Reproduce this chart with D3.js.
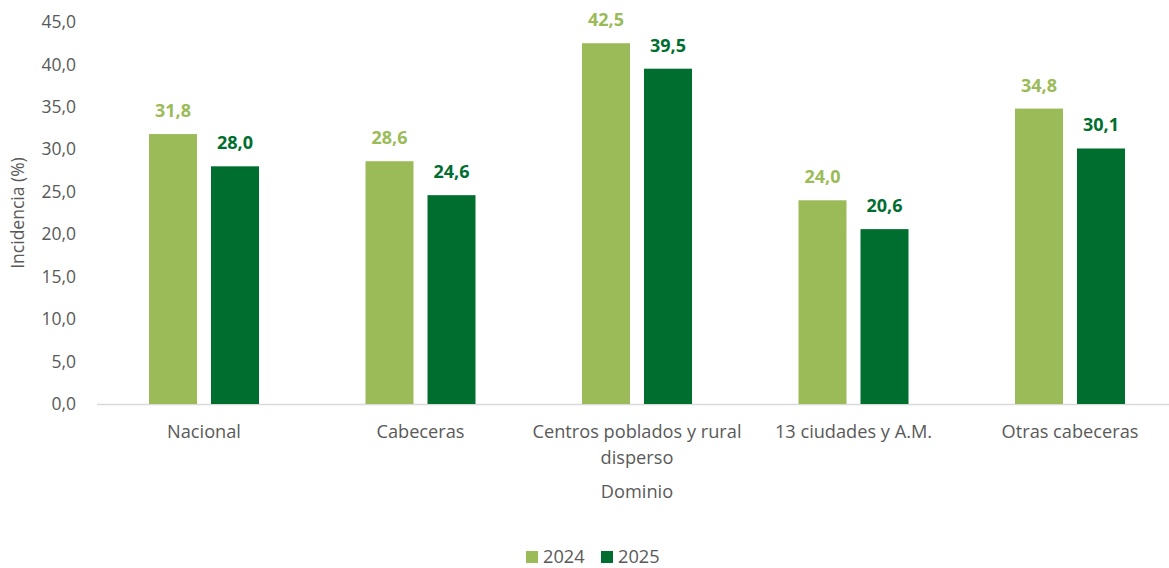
<!DOCTYPE html>
<html><head><meta charset="utf-8">
<script src="https://cdn.jsdelivr.net/npm/d3@7"></script>
<style>body{margin:0;background:#fff;} text{font-family:"Open Sans",Lato,sans-serif;}</style>
</head><body><svg id="c" width="1169" height="568"></svg>
<script>
const categories = ["Nacional","Cabeceras","Centros poblados y rural disperso","13 ciudades y A.M.","Otras cabeceras"];
const categoryLines = [["Nacional"],["Cabeceras"],["Centros poblados y rural","disperso"],["13 ciudades y A.M."],["Otras cabeceras"]];
const seriesNames = ["2024","2025"];
const values2024 = [31.8,28.6,42.5,24.0,34.8];
const values2025 = [28.0,24.6,39.5,20.6,30.1];
const yTicks = [0,5,10,15,20,25,30,35,40,45];
const colors = ["#9BBB59","#006E2F"];

(function(){
const svg = d3.select("#c");
const pL=95.75, pR=1178.25, pT=22, pB=404;
const x0 = d3.scaleBand().domain(categories).range([pL,pR]).padding(0);
const x1 = d3.scaleBand().domain(seriesNames).range([0,110]).paddingInner(14/62);
const y = d3.scaleLinear().domain([0,45]).range([pB,pT]);
const fmt = v => d3.format(".1f")(v).replace(".",",");
const fs = "17.5px", fc = "18.2px";

svg.append("g").selectAll("text").data(yTicks).join("text")
  .attr("x",76).attr("y",d=>y(d)).attr("dy","0.35em").attr("text-anchor","end")
  .attr("fill","#595959").style("font-size",fs).text(fmt);

svg.append("text").attr("transform",`translate(24,${(pT+pB)/2}) rotate(-90)`)
  .attr("text-anchor","middle").attr("fill","#595959").style("font-size",fs).text("Incidencia (%)");

svg.append("line").attr("x1",97).attr("x2",1169).attr("y1",pB+0.5).attr("y2",pB+0.5)
  .attr("stroke","#d9d9d9").attr("stroke-width",1.5);

const data = categories.map((c,i)=>({c, vals:[values2024[i],values2025[i]]}));
const g = svg.append("g").selectAll("g").data(data).join("g")
  .attr("transform",d=>`translate(${x0(d.c)+x0.bandwidth()/2-55},0)`);
g.selectAll("rect").data(d=>d.vals.map((v,k)=>({v,k}))).join("rect")
  .attr("x",d=>x1(seriesNames[d.k])).attr("width",x1.bandwidth())
  .attr("y",d=>y(d.v)).attr("height",d=>pB-y(d.v)).attr("fill",d=>colors[d.k]);
g.selectAll("text.lab").data(d=>d.vals.map((v,k)=>({v,k}))).join("text").attr("class","lab")
  .attr("x",d=>x1(seriesNames[d.k])+x1.bandwidth()/2).attr("y",d=>y(d.v)-17)
  .attr("text-anchor","middle").attr("fill",d=>colors[d.k]).style("font-size","18px").style("font-weight","bold")
  .text(d=>fmt(d.v));

svg.append("g").selectAll("text").data(categories).join("text")
  .attr("x",d=>x0(d)+x0.bandwidth()/2).attr("y",438).attr("text-anchor","middle")
  .attr("fill","#595959").style("font-size",fc)
  .each(function(d,i){const t=d3.select(this);categoryLines[i].forEach((l,j)=>t.append("tspan").attr("x",x0(d)+x0.bandwidth()/2).attr("dy",j?"26":"0").text(l));});

svg.append("text").attr("x",637).attr("y",498).attr("text-anchor","middle")
  .attr("fill","#595959").style("font-size",fc).text("Dominio");

const leg = svg.append("g").selectAll("g").data(seriesNames).join("g")
  .attr("transform",(d,i)=>`translate(${526+i*75},0)`);
leg.append("rect").attr("x",0).attr("y",551).attr("width",12).attr("height",12).attr("fill",(d,i)=>colors[i]);
leg.append("text").attr("x",17).attr("y",563).attr("fill","#595959").style("font-size",fc).text(d=>d);
})();
</script></body></html>
